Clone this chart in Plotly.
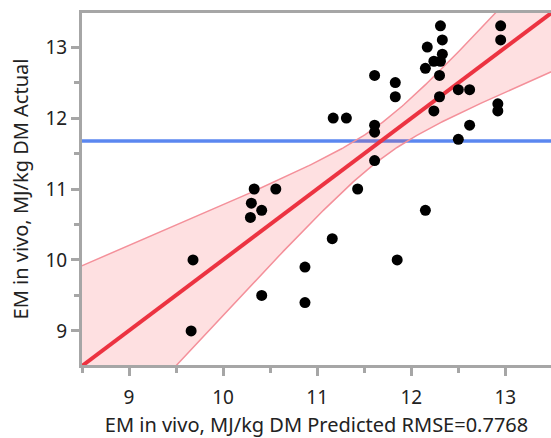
import numpy as np
import plotly.graph_objects as go

# Data (predicted vs actual, MJ/kg DM)
predicted = [12.31, 12.33, 12.17, 12.33, 12.24, 12.31, 12.15, 12.30, 12.30, 12.24,
             12.50, 12.62, 12.95, 12.95, 12.92, 12.92, 12.62, 12.50, 11.61, 11.83,
             11.83, 11.17, 11.31, 11.61, 11.61, 11.61, 11.43, 10.33, 10.56, 10.30,
             10.41, 10.29, 12.15, 11.16, 10.87, 11.85, 10.87, 9.68, 10.41, 9.66]
actual = [13.3, 13.1, 13.0, 12.9, 12.8, 12.8, 12.7, 12.6, 12.3, 12.1,
          12.4, 12.4, 13.3, 13.1, 12.2, 12.1, 11.9, 11.7, 12.6, 12.5,
          12.3, 12.0, 12.0, 11.9, 11.8, 11.4, 11.0, 11.0, 11.0, 10.8,
          10.7, 10.6, 10.7, 10.3, 9.9, 10.0, 9.4, 10.0, 9.5, 9.0]
x_ticks = [9, 10, 11, 12, 13]
y_ticks = [9, 10, 11, 12, 13]
rmse = 0.7768
model_terms = 4          # numerator df of the whole-model test
t_crit = 2.030           # t(0.975, 35)
f_crit = 2.641           # F(0.95, 4, 35)

xr = [8.5, 13.485]
yr = [8.52, 13.48]

xp = np.array(predicted)
ya = np.array(actual)
n = len(xp)
slope, intercept = np.polyfit(xp, ya, 1)
xbar = xp.mean()
ybar = ya.mean()
sxx = ((xp - xbar) ** 2).sum()

xs = np.linspace(xr[0] - 0.2, xr[1] + 0.2, 300)
fit = intercept + slope * xs
half = np.sqrt(t_crit ** 2 * rmse ** 2 / n + model_terms * f_crit * rmse ** 2 * (xs - xbar) ** 2 / sxx)
upper = fit + half
lower = fit - half

fig = go.Figure()
# mean line
fig.add_trace(go.Scatter(x=[xr[0] - 0.2, xr[1] + 0.2], y=[ybar, ybar], mode="lines",
                         line=dict(color="#5b87f0", width=3.5), hoverinfo="skip"))
# confidence band
fig.add_trace(go.Scatter(x=xs, y=lower, mode="lines",
                         line=dict(color="#f4909a", width=1.5), hoverinfo="skip"))
fig.add_trace(go.Scatter(x=xs, y=upper, mode="lines", fill="tonexty",
                         fillcolor="rgba(250,60,70,0.16)",
                         line=dict(color="#f4909a", width=1.5), hoverinfo="skip"))
# fit line
fig.add_trace(go.Scatter(x=xs, y=fit, mode="lines",
                         line=dict(color="#ec3341", width=4), hoverinfo="skip"))
# points
fig.add_trace(go.Scatter(x=predicted, y=actual, mode="markers",
                         marker=dict(color="black", size=11, line=dict(width=0))))

axis_color = "#a6a6a6"
fig.update_layout(
    width=551, height=438,
    margin=dict(l=82, r=0, t=13, b=73),
    paper_bgcolor="white", plot_bgcolor="white",
    showlegend=False,
    font=dict(family="Noto Sans", size=19, color="#222222"),
    xaxis=dict(range=xr, tickvals=x_ticks, ticktext=[str(v) for v in x_ticks],
               showgrid=False, zeroline=False, automargin=True,
               showline=True, linecolor=axis_color, linewidth=3, mirror=True,
               ticks="outside", ticklen=8, tickwidth=2.5, tickcolor=axis_color,
               ticklabelstandoff=5,
               minor=dict(dtick=0.5, ticks="outside", ticklen=5, tickwidth=2.5, tickcolor=axis_color),
               tickfont=dict(size=19),
               title=dict(text="EM in vivo, MJ/kg DM Predicted RMSE=0.7768", standoff=14,
                          font=dict(size=20))),
    yaxis=dict(range=yr, tickvals=y_ticks, ticktext=[str(v) for v in y_ticks],
               showgrid=False, zeroline=False, automargin=False,
               showline=True, linecolor=axis_color, linewidth=3,
               ticks="outside", ticklen=8, tickwidth=2.5, tickcolor=axis_color,
               minor=dict(dtick=0.5, ticks="outside", ticklen=5, tickwidth=2.5, tickcolor=axis_color),
               tickfont=dict(size=19),
               title=dict(text="EM in vivo, MJ/kg DM Actual", standoff=12,
                          font=dict(size=20))),
)
fig.write_html("out.html")
